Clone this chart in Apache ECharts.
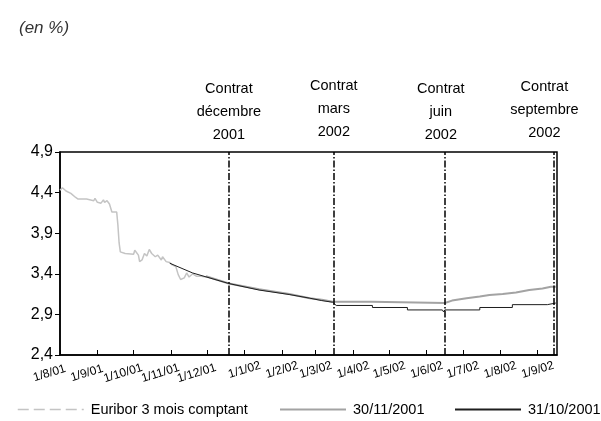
<!DOCTYPE html>
<html>
<head>
<meta charset="utf-8">
<script src="https://cdn.jsdelivr.net/npm/echarts@6/dist/echarts.min.js"></script>
<style>
  html, body { margin: 0; padding: 0; background: #fff; }
  #chart { width: 601px; height: 421px; }
</style>
</head>
<body>
<div id="chart"></div>
<script>
// Euribor 3 mois comptant
const spotDates = [
  '2001-08-01','2001-08-03','2001-08-06','2001-08-07','2001-08-10','2001-08-14','2001-08-16',
  '2001-08-23','2001-08-24','2001-08-29','2001-08-30','2001-09-01','2001-09-04','2001-09-06',
  '2001-09-07','2001-09-09','2001-09-11','2001-09-12','2001-09-13','2001-09-17','2001-09-18',
  '2001-09-19','2001-09-20','2001-09-24','2001-10-01','2001-10-02','2001-10-05','2001-10-06',
  '2001-10-08','2001-10-10','2001-10-12','2001-10-14','2001-10-16','2001-10-17','2001-10-19',
  '2001-10-21','2001-10-24','2001-10-25','2001-10-28','2001-10-31','2001-11-02','2001-11-05',
  '2001-11-07','2001-11-09','2001-11-12','2001-11-14','2001-11-16','2001-11-19','2001-11-22',
  '2001-11-26','2001-11-30'
];
const spotValues = [
  4.43, 4.46, 4.42, 4.44, 4.39, 4.34, 4.32,
  4.32, 4.30, 4.30, 4.33, 4.28, 4.27, 4.31,
  4.28, 4.30, 4.26, 4.26, 4.16, 4.16, 4.00,
  3.78, 3.67, 3.65, 3.64, 3.69, 3.63, 3.55,
  3.57, 3.65, 3.62, 3.70, 3.65, 3.67, 3.61,
  3.63, 3.57, 3.61, 3.55, 3.54, 3.51, 3.49,
  3.39, 3.33, 3.35, 3.41, 3.36, 3.40, 3.37,
  3.37, 3.36
];

// Courbe au 30/11/2001
const novDates = [
  '2001-11-30','2001-12-19','2002-01-13','2002-02-07','2002-02-24','2002-03-06','2002-03-15',
  '2002-04-16','2002-04-16','2002-06-16','2002-06-22','2002-07-04','2002-07-15','2002-07-23',
  '2002-08-03','2002-08-14','2002-08-25','2002-09-05','2002-09-12','2002-09-16'
];
const novValues = [
  3.37, 3.28, 3.21, 3.15, 3.10, 3.08, 3.055,
  3.055, 3.04, 3.04, 3.07, 3.10, 3.12, 3.14,
  3.15, 3.17, 3.20, 3.22, 3.24, 3.24
];

// Courbe au 31/10/2001
const octDates = [
  '2001-10-31','2001-11-19','2001-12-19','2002-01-13','2002-02-07','2002-02-24','2002-03-06',
  '2002-03-15','2002-03-18','2002-04-17','2002-04-17','2002-05-16','2002-05-16','2002-06-14',
  '2002-06-15','2002-06-16','2002-07-15','2002-07-15','2002-08-11','2002-08-11','2002-09-09',
  '2002-09-09','2002-09-16'
];
const octValues = [
  3.53, 3.41, 3.28, 3.20, 3.145, 3.10, 3.07,
  3.05, 3.01, 3.01, 2.985, 2.985, 2.955, 2.955,
  2.93, 2.955, 2.955, 2.985, 2.985, 3.02, 3.02,
  3.04, 3.04
];

// Échéances des contrats
const contractDates = ['2001-12-19', '2002-03-16', '2002-06-16', '2002-09-14'];
const contractLabels = [
  'Contrat\ndécembre\n2001',
  'Contrat\nmars\n2002',
  'Contrat\njuin\n2002',
  'Contrat\nseptembre\n2002'
];

// Graduations
const monthTicks = [
  '2001-08-01','2001-09-01','2001-10-01','2001-11-01','2001-12-01','2002-01-01','2002-02-01',
  '2002-03-01','2002-04-01','2002-05-01','2002-06-01','2002-07-01','2002-08-01','2002-09-01'
];
const xStart = '2001-08-01';
const xEnd = '2002-09-17';
const yMin = 2.4, yMax = 4.9, yStep = 0.5;

const seriesNames = ['Euribor 3 mois comptant', '30/11/2001', '31/10/2001'];

function t(s) {
  const p = s.split('-').map(Number);
  return new Date(p[0], p[1] - 1, p[2]).getTime();
}
function pairs(ds, vs) { return ds.map((d, i) => [t(d), vs[i]]); }

const FONT = '"Liberation Sans", Arial, sans-serif';

const chart = echarts.init(document.getElementById('chart'), null, { renderer: 'canvas' });

// léger décalage des libellés au-dessus des traits d'échéance
const labelOffsets = [[0, 0], [0, -3], [-4, 0], [-9, -2]];
const contractLines = contractDates.map((d, i) => ({
  xAxis: t(d),
  label: { formatter: contractLabels[i], offset: labelOffsets[i] }
}));

chart.setOption({
  animation: false,
  backgroundColor: '#fff',
  textStyle: { fontFamily: FONT },
  title: {
    text: '(en %)',
    left: 14, top: 15,
    textStyle: { fontFamily: FONT, fontStyle: 'italic', fontWeight: 'normal', fontSize: 17, color: '#333' }
  },
  grid: {
    left: 60, right: 44, top: 152, bottom: 66,
    show: true, borderColor: '#000', borderWidth: 1.5, backgroundColor: 'transparent'
  },
  legend: [
    { data: [{ name: seriesNames[0], lineStyle: { type: [11, 5], width: 1.5, color: '#c4c4c4' } }],
      left: 17, top: 402 },
    { data: [seriesNames[1]], left: 279, top: 402 },
    { data: [seriesNames[2]], left: 454, top: 402 }
  ].map(l => Object.assign(l, {
    itemWidth: 66, itemHeight: 12, padding: 0, itemGap: 0,
    itemStyle: { opacity: 0 },
    textStyle: { fontFamily: FONT, fontSize: 14.5, color: '#000', padding: [0, 0, 0, 2] }
  })),
  xAxis: {
    type: 'value',
    min: t(xStart), max: t(xEnd),
    axisLine: { show: true, lineStyle: { color: '#000', width: 1.5 } },
    axisTick: { show: true, inside: true, length: 5, customValues: monthTicks.map(t), lineStyle: { color: '#000', width: 1 } },
    axisLabel: {
      customValues: monthTicks.map(t),
      showMinLabel: true, showMaxLabel: true, hideOverlap: false,
      rotate: 17, margin: 15, align: 'center', verticalAlign: 'middle',
      fontFamily: FONT, fontSize: 12, color: '#000',
      formatter: v => {
        const d = new Date(v);
        const txt = d.getDate() + '/' + (d.getMonth() + 1) + '/' + String(d.getFullYear()).slice(2);
        return d.getFullYear() === 2001 ? '{a|' + txt + '}' : txt;
      },
      rich: {
        a: { fontFamily: FONT, fontSize: 12, color: '#000', padding: [0, 22, 0, 0] }
      }
    },
    splitLine: { show: false }
  },
  yAxis: {
    type: 'value',
    min: yMin, max: yMax, interval: yStep,
    axisLine: { show: true, lineStyle: { color: '#000', width: 1.5 } },
    axisTick: { show: true, inside: false, length: 5, lineStyle: { color: '#000', width: 1 } },
    axisLabel: {
      margin: 7, fontFamily: FONT, fontSize: 16, color: '#000',
      formatter: v => v.toFixed(1).replace('.', ',')
    },
    splitLine: { show: false }
  },
  series: [
    {
      name: seriesNames[0], type: 'line', symbol: 'none', z: 2,
      lineStyle: { color: '#c4c4c4', width: 1.5 }, itemStyle: { color: '#c4c4c4' },
      data: pairs(spotDates, spotValues)
    },
    {
      name: seriesNames[1], type: 'line', symbol: 'none', z: 3,
      lineStyle: { color: '#a3a3a3', width: 2 }, itemStyle: { color: '#a3a3a3' },
      data: pairs(novDates, novValues)
    },
    {
      name: seriesNames[2], type: 'line', symbol: 'none', z: 4,
      lineStyle: { color: '#1e1e1e', width: 1 }, itemStyle: { color: '#1e1e1e' },
      data: pairs(octDates, octValues),
      markLine: {
        silent: true, symbol: ['none', 'none'], animation: false,
        lineStyle: { color: '#000', width: 1.5, type: [7, 2, 1.5, 2] },
        label: {
          show: true, position: 'end', distance: 6,
          fontFamily: FONT, fontSize: 14.5, lineHeight: 23, color: '#000'
        },
        data: contractLines
      }
    }
  ]
});
</script>
</body>
</html>
